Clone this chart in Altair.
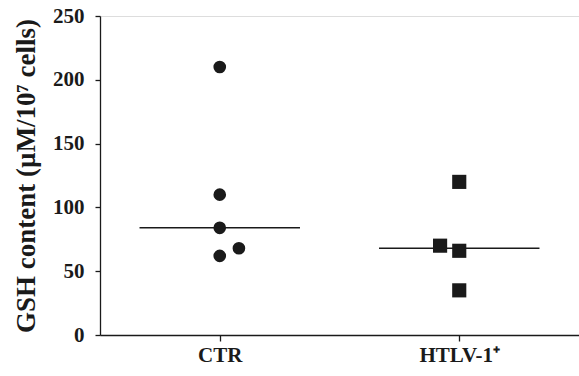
import altair as alt
import pandas as pd

groups = ["CTR", "CTR", "CTR", "CTR", "CTR", "HTLV-1⁺", "HTLV-1⁺", "HTLV-1⁺", "HTLV-1⁺"]
group_index = [0, 0, 0, 0, 0, 1, 1, 1, 1]
jitter = [0, 0, 0, 0, 0.08, 0, -0.08, 0, 0]
gsh = [210, 110, 84, 62, 68, 120, 70, 66, 35]
shapes = ["circle"] * 5 + ["square"] * 4

median_groups = ["CTR", "HTLV-1⁺"]
median_index = [0, 1]
median_values = [84, 68]
half_width = 0.335

pts = pd.DataFrame({
    "group": groups,
    "x": [g + 0.5 + j for g, j in zip(group_index, jitter)],
    "gsh": gsh,
    "shape": shapes,
})
med = pd.DataFrame({
    "group": median_groups,
    "x1": [i + 0.5 - half_width for i in median_index],
    "x2": [i + 0.5 + half_width for i in median_index],
    "gsh": median_values,
})

FONT = "Liberation Serif"
INK = "#1a1a1a"
xscale = alt.Scale(domain=[0, 2], nice=False, zero=False)
yscale = alt.Scale(domain=[0, 250], nice=False)

xaxis = alt.Axis(
    values=[0.5, 1.5],
    labelExpr="datum.value < 1 ? 'CTR' : 'HTLV-1⁺'",
    title=None, grid=False, tickSize=6, labelPadding=3,
    labelFont=FONT, labelFontWeight="bold", labelFontSize=21, labelColor=INK,
    domainColor=INK, tickColor=INK, domainWidth=1.3, tickWidth=1.3,
)
yaxis = alt.Axis(
    values=[0, 50, 100, 150, 200, 250], grid=False, tickSize=5, labelPadding=11,
    title="GSH content (µM/10⁷ cells)", titleFont=FONT, titleFontWeight="bold",
    titleFontSize=27, titleColor=INK, titlePadding=12,
    labelFont=FONT, labelFontWeight="bold", labelFontSize=21, labelColor=INK,
    domainColor=INK, tickColor=INK, domainWidth=1.3, tickWidth=1.3,
)

points = alt.Chart(pts).mark_point(filled=True, opacity=1, color=INK).encode(
    x=alt.X("x:Q", scale=xscale, axis=xaxis),
    y=alt.Y("gsh:Q", scale=yscale, axis=yaxis),
    shape=alt.Shape("shape:N", scale=alt.Scale(domain=["circle", "square"], range=["circle", "square"]), legend=None),
    size=alt.Size("shape:N", scale=alt.Scale(domain=["circle", "square"], range=[160, 200]), legend=None),
)

rules = alt.Chart(med).mark_rule(color=INK, strokeWidth=1.5).encode(
    x=alt.X("x1:Q", scale=xscale),
    x2="x2:Q",
    y=alt.Y("gsh:Q", scale=yscale),
)

chart = alt.layer(rules, points).properties(
    width=479, height=319,
    autosize=alt.AutoSizeParams(type="none"),
    padding={"left": 100, "top": 16, "right": 0, "bottom": 41},
).configure_view(stroke=None).configure(background="white")

chart.save("out.html", embed_options={"renderer": "svg", "actions": False})
